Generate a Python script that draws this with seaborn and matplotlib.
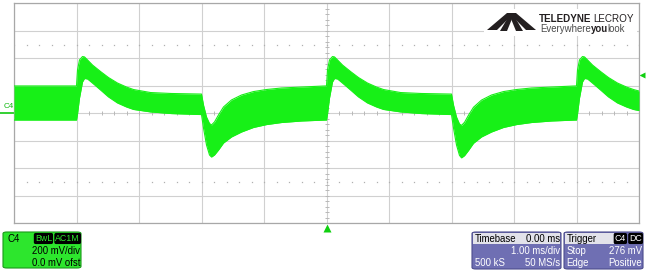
import numpy as np
import pandas as pd
import matplotlib
matplotlib.use("Agg")
import matplotlib.pyplot as plt
import seaborn as sns
from matplotlib.patches import Rectangle, FancyBboxPatch, Polygon

# ---------------- data (time in ms, envelope of the noisy trace in mV) ----------------
time_ms = [-5.0,
           -4.0, -3.984, -3.952, -3.904, -3.872, -3.824, -3.744, -3.616, -3.488, -3.344, -3.2, -3.088, -2.816, -2.48, -2.016,
           -2.0, -1.968, -1.92, -1.872, -1.84, -1.792, -1.728, -1.648, -1.52, -1.36, -1.168, -0.96, -0.72, -0.4, -0.016,
           0.0, 0.016, 0.048, 0.096, 0.128, 0.176, 0.256, 0.384, 0.512, 0.656, 0.8, 0.912, 1.184, 1.52, 1.984,
           2.0, 2.032, 2.08, 2.128, 2.16, 2.208, 2.272, 2.352, 2.48, 2.64, 2.832, 3.04, 3.28, 3.6, 3.984,
           4.0, 4.016, 4.048, 4.096, 4.128, 4.176, 4.256, 4.384, 4.512, 4.656, 4.8, 4.912, 5.0]
upper_mv = [199,
            199, 315, 388, 413, 410, 388, 351, 304, 260, 220, 191, 173, 151, 144, 140,
            140, 60, -27, -74, -85, -63, -12, 46, 97, 133, 158, 173, 184, 191, 199,
            199, 315, 388, 413, 410, 388, 351, 304, 260, 220, 191, 173, 151, 144, 140,
            140, 60, -27, -78, -88, -66, -14, 44, 96, 133, 158, 173, 184, 191, 199,
            199, 315, 388, 413, 410, 388, 351, 304, 260, 220, 191, 173, 162]
lower_mv = [-49,
            -49, -5, 111, 228, 253, 250, 220, 170, 119, 75, 46, 28, 10, -2, -9,
            -9, -107, -230, -303, -318, -303, -267, -216, -172, -136, -103, -82, -67, -56, -49,
            -49, -5, 111, 228, 253, 250, 220, 170, 119, 75, 46, 28, 10, -2, -9,
            -9, -107, -230, -306, -324, -308, -270, -218, -172, -136, -103, -82, -67, -56, -49,
            -49, -5, 111, 228, 253, 250, 220, 170, 119, 75, 46, 28, 20]

trigger_level_mv = 276
ch_label = "C4"
ch_tags = ["BwL", "AC1M"]
ch_lines = ["200 mV/div", "0.0 mV ofst"]
tb_header = ("Timebase", "0.00 ms")
tb_rows = [("", "1.00 ms/div"), ("500 kS", "50 MS/s")]
trig_header = "Trigger"
trig_tags = ["C4", "DC"]
trig_rows = [("Stop", "276 mV"), ("Edge", "Positive")]

df = pd.DataFrame({"t": time_ms, "upper": upper_mv, "lower": lower_mv})

# ---------------- figure ----------------
sns.set_theme(style="white")
plt.rcParams["font.family"] = ["Liberation Sans", "DejaVu Sans"]

W, H = 647, 270
fig = plt.figure(figsize=(W / 100, H / 100), dpi=100)
fig.patch.set_facecolor("white")

def fx(x):
    return x / W

def fy(y):
    return 1 - y / H

L, R, T, B = 14, 639, 3.3, 223.3
ax = fig.add_axes([fx(L), fy(B), (R - L) / W, (B - T) / H])
ax.set_xlim(-5, 5)
ax.set_ylim(-800, 800)
ax.set_xticks(np.arange(-5, 5.01, 1))
ax.set_yticks(np.arange(-800, 801, 200))
ax.tick_params(length=0, labelbottom=False, labelleft=False)
ax.grid(True, color="#d0d0d0", lw=0.8)
for s in ax.spines.values():
    s.set_color("#a8a8a8")
    s.set_linewidth(0.9)
ax.set_axisbelow(True)

grid_c = "#b8b8b8"
tx = np.arange(-5, 5.001, 0.2)
ax.vlines(tx, -14, 14, color=grid_c, lw=0.7, zorder=1)
ty = np.arange(-800, 800.1, 40)
ax.hlines(ty, -0.032, 0.032, color=grid_c, lw=0.7, zorder=1)
for yy in (500, -500):
    ax.plot(tx, np.full_like(tx, yy), ls="none", marker="s", ms=0.9,
            color="#b0b0b0", mec="none", zorder=1)

green = "#17f017"
ax.fill_between(df["t"], df["lower"], df["upper"], color=green, lw=0, zorder=3)
sns.lineplot(data=df, x="t", y="upper", ax=ax, color=green, lw=0.8, zorder=3)
sns.lineplot(data=df, x="t", y="lower", ax=ax, color=green, lw=0.8, zorder=3)
ax.set_xlabel("")
ax.set_ylabel("")

# channel ground marker
ax.plot([-5 - 14 / 62.5, -5], [0, 0], color="#10c810", lw=1.2, clip_on=False)
fig.text(fx(4), fy(106), ch_label, color="#10b810", fontsize=5.8, va="center", ha="left")
ax.plot([5 + 2.5 / 62.5], [trigger_level_mv], marker="<", ms=5, color="#10d010",
        mec="none", clip_on=False)
ax.plot([0], [-800 - 4.5 * 7.27], marker="^", ms=5.5, color="#10d010",
        mec="none", clip_on=False)

# ---------------- logo ----------------
fig.patches.append(Rectangle((fx(484), fy(36)), (637 - 484) / W, (36 - 9) / H,
                             transform=fig.transFigure, fc="white", ec="none", zorder=5))
logo_c = "#231f20"
blades = [
    [(487, 30), (507, 13), (514, 13), (497, 30)],
    [(500, 31), (510, 14), (514, 14), (507, 31)],
    [(536, 30), (516, 13), (509, 13), (526, 30)],
    [(523, 31), (513, 14), (509, 14), (516, 31)],
]
for b in blades:
    fig.patches.append(Polygon([(fx(x), fy(y)) for x, y in b], closed=True,
                               transform=fig.transFigure, fc=logo_c, ec="none", zorder=6))

t1 = fig.text(fx(538.5), fy(21.5), "TELEDYNE", fontsize=7.1, fontweight="bold",
              color=logo_c, va="baseline", ha="left", zorder=7)
t2 = fig.text(fx(590), fy(21.5), "LECROY", fontsize=7.1, color=logo_c, va="baseline",
              ha="left", zorder=7)
e1 = fig.text(fx(540), fy(32.5), "Everywhere", fontsize=6.9, color="#4a4a4a",
              va="baseline", ha="left", zorder=7)
e2 = fig.text(fx(580), fy(32.5), "you", fontsize=6.9, color=logo_c, fontweight="bold",
              va="baseline", ha="left", zorder=7)
e3 = fig.text(fx(600), fy(32.5), "look", fontsize=6.9, color="#4a4a4a",
              va="baseline", ha="left", zorder=7)
fig.canvas.draw()
rend = fig.canvas.get_renderer()
t2.set_x(t1.get_window_extent(rend).x1 / W + 2.5 / W)
e2.set_x(e1.get_window_extent(rend).x1 / W)
fig.canvas.draw()
e3.set_x(e2.get_window_extent(rend).x1 / W)

# ---------------- info boxes ----------------
fs = 6.9

def box(x0, y0, x1, y1, fc, ec):
    fig.patches.append(FancyBboxPatch((fx(x0), fy(y1)), (x1 - x0) / W, (y1 - y0) / H,
                                      boxstyle="round,pad=0,rounding_size=0.006",
                                      transform=fig.transFigure, fc=fc, ec=ec, lw=0.8))

def tag(x_right, y, s, color):
    fig.text(fx(x_right), fy(y), s, fontsize=fs - 0.6, color=color, ha="right", va="center",
             bbox=dict(boxstyle="round,pad=0.12,rounding_size=0.2", fc="black", ec="none"))

box(3, 232, 81, 268, "#2de62d", "#1a9a1a")
fig.text(fx(7), fy(239), ch_label, fontsize=fs, color="black", ha="left", va="center")
tag(52, 238.5, ch_tags[0], "#2de62d")
tag(80, 238.5, ch_tags[1], "#2de62d")
fig.text(fx(80), fy(250.5), ch_lines[0], fontsize=fs, color="black", ha="right", va="center")
fig.text(fx(80), fy(262.5), ch_lines[1], fontsize=fs, color="black", ha="right", va="center")

purple = "#6f6fb3"
box(472, 232, 561, 269, purple, "#4c4c8c")
fig.patches.append(Rectangle((fx(473), fy(244)), (560 - 473) / W, (244 - 233) / H,
                             transform=fig.transFigure, fc="#e2e2ea", ec="none"))
fig.text(fx(474.5), fy(238.5), tb_header[0], fontsize=fs, color="black", ha="left", va="center")
fig.text(fx(560), fy(238.5), tb_header[1], fontsize=fs, color="black", ha="right", va="center")
fig.text(fx(560), fy(250.5), tb_rows[0][1], fontsize=fs, color="white", ha="right", va="center")
fig.text(fx(474.5), fy(262.5), tb_rows[1][0], fontsize=fs, color="white", ha="left", va="center")
fig.text(fx(560), fy(262.5), tb_rows[1][1], fontsize=fs, color="white", ha="right", va="center")

box(564, 232, 643, 269, purple, "#4c4c8c")
fig.patches.append(Rectangle((fx(565), fy(244)), (614 - 565) / W, (244 - 233) / H,
                             transform=fig.transFigure, fc="#e2e2ea", ec="none"))
fig.text(fx(566.5), fy(238.5), trig_header, fontsize=fs, color="black", ha="left", va="center")
tag(626, 238.5, trig_tags[0], "white")
tag(642, 238.5, trig_tags[1], "white")
fig.text(fx(566.5), fy(250.5), trig_rows[0][0], fontsize=fs, color="white", ha="left", va="center")
fig.text(fx(642), fy(250.5), trig_rows[0][1], fontsize=fs, color="white", ha="right", va="center")
fig.text(fx(566.5), fy(262.5), trig_rows[1][0], fontsize=fs, color="white", ha="left", va="center")
fig.text(fx(642), fy(262.5), trig_rows[1][1], fontsize=fs, color="white", ha="right", va="center")

fig.savefig("out.png", dpi=100, facecolor="white")
